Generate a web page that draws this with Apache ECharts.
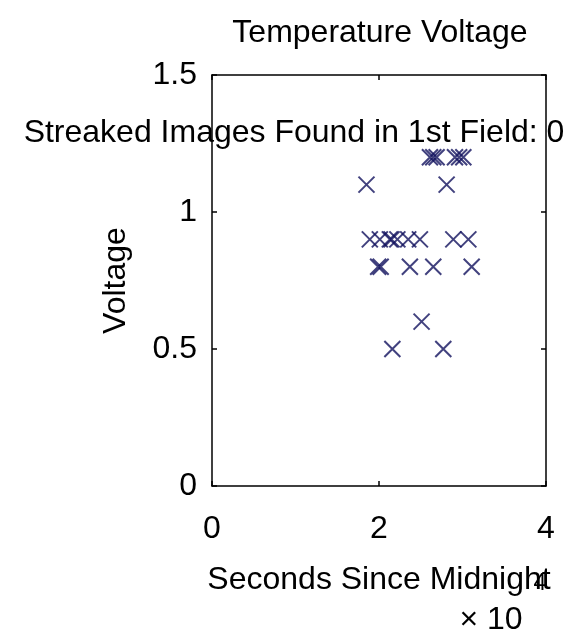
<!DOCTYPE html>
<html>
<head>
<meta charset="utf-8">
<title>Temperature Voltage</title>
<script src="https://cdn.jsdelivr.net/npm/echarts@6/dist/echarts.min.js"></script>
<style>
  html, body { margin: 0; padding: 0; background: #ffffff; }
  #chart { width: 571px; height: 636px; }
</style>
</head>
<body>
<div id="chart"></div>
<script>
// Readings: seconds since midnight and measured voltage
const timeSec = [
  26100, 26500, 26900, 29100, 29600, 30100,
  18500, 28100,
  18900, 20100, 21300, 21500, 22200, 23500, 24900, 28900, 30700,
  19900, 20200, 23700, 26500, 31100,
  25100,
  21600, 27700
];
const voltage = [
  1.2, 1.2, 1.2, 1.2, 1.2, 1.2,
  1.1, 1.1,
  0.9, 0.9, 0.9, 0.9, 0.9, 0.9, 0.9, 0.9, 0.9,
  0.8, 0.8, 0.8, 0.8, 0.8,
  0.6,
  0.5, 0.5
];
const xTicks = [0, 20000, 40000];
const yTicks = [0, 0.5, 1, 1.5];
const streakedCount = 0;

const points = timeSec.map((t, i) => [t, voltage[i]]);
const font = 'Liberation Sans, Arial, Helvetica, sans-serif';
const ink = '#000000';
const markColor = '#12125e';

const chart = echarts.init(document.getElementById('chart'), null, { renderer: 'canvas' });

const baseAxis = {
  axisLine: { show: true, onZero: false, lineStyle: { color: ink, width: 1.5 } },
  axisTick: { show: true, inside: true, length: 5, lineStyle: { color: ink, width: 1.5 } },
  splitLine: { show: false }
};

chart.setOption({
  backgroundColor: '#ffffff',
  animation: false,
  title: {
    text: 'Temperature Voltage',
    left: 375,
    top: 12,
    textAlign: 'center',
    textStyle: { fontFamily: font, fontSize: 32, fontWeight: 'normal', color: ink }
  },
  grid: { left: 212, right: 25, top: 75, bottom: 150, containLabel: false },
  xAxis: [
    Object.assign({}, baseAxis, {
      type: 'value',
      position: 'bottom',
      min: xTicks[0],
      max: xTicks[xTicks.length - 1],
      interval: xTicks[1] - xTicks[0],
      name: 'Seconds Since Midnight',
      nameLocation: 'middle',
      nameGap: 78,
      nameTextStyle: { fontFamily: font, fontSize: 32, color: ink },
      axisLabel: {
        margin: 27,
        fontFamily: font, fontSize: 32, color: ink,
        formatter: v => String(v / 10000)
      }
    }),
    Object.assign({}, baseAxis, {
      type: 'value',
      position: 'top',
      min: xTicks[0],
      max: xTicks[xTicks.length - 1],
      interval: xTicks[1] - xTicks[0],
      axisLabel: { show: false }
    })
  ],
  yAxis: [
    Object.assign({}, baseAxis, {
      type: 'value',
      position: 'left',
      min: yTicks[0],
      max: yTicks[yTicks.length - 1],
      interval: yTicks[1] - yTicks[0],
      name: 'Voltage',
      nameLocation: 'middle',
      nameGap: 80,
      nameTextStyle: { fontFamily: font, fontSize: 32, color: ink },
      axisLabel: {
        margin: 15,
        fontFamily: font, fontSize: 32, color: ink,
        formatter: v => String(v)
      }
    }),
    Object.assign({}, baseAxis, {
      type: 'value',
      position: 'right',
      min: yTicks[0],
      max: yTicks[yTicks.length - 1],
      interval: yTicks[1] - yTicks[0],
      axisLabel: { show: false }
    })
  ],
  graphic: [
    {
      type: 'text',
      z: 100,
      style: {
        x: 294, y: 133,
        text: 'Streaked Images Found in 1st Field: ' + streakedCount,
        font: '32px ' + font,
        fill: ink,
        textAlign: 'center',
        textVerticalAlign: 'middle'
      }
    },
    {
      type: 'text',
      z: 100,
      style: {
        x: 491, y: 620,
        text: '\u00d7 10',
        font: '32px ' + font,
        fill: ink,
        textAlign: 'center',
        textVerticalAlign: 'middle'
      }
    },
    {
      type: 'text',
      z: 100,
      style: {
        x: 540, y: 584,
        text: '4',
        font: '23px ' + font,
        fill: ink,
        textAlign: 'center',
        textVerticalAlign: 'middle'
      }
    }
  ],
  series: [
    {
      type: 'scatter',
      xAxisIndex: 0,
      yAxisIndex: 0,
      data: points,
      symbol: 'path://M0,0L10,10M10,0L0,10',
      symbolSize: 16,
      itemStyle: {
        color: 'transparent',
        borderColor: markColor,
        borderWidth: 2,
        opacity: 0.8
      },
      emphasis: { disabled: true }
    }
  ]
});
</script>
</body>
</html>
